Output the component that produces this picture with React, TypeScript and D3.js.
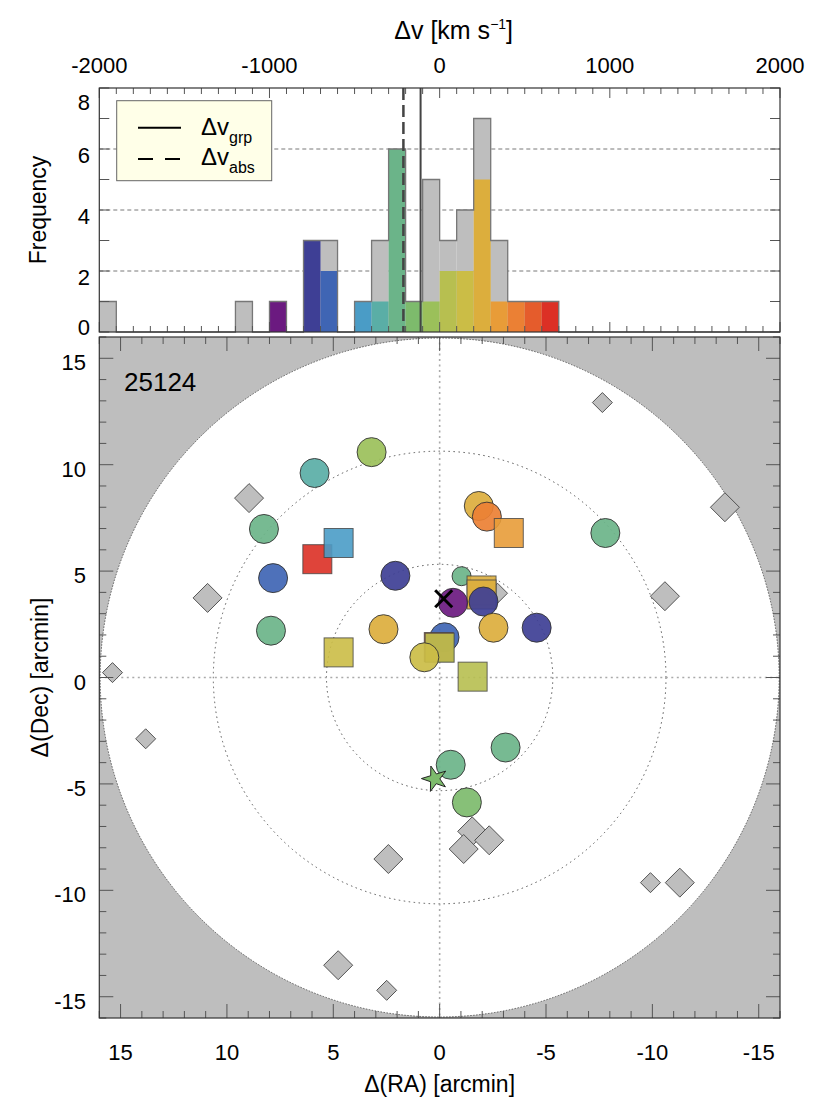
import React from 'react';
import * as d3 from 'd3';

// ---------- DATA ----------
// Histogram bins (start velocity, km/s; 100 km/s wide)
const binStart = [-2000, -1200, -1000, -800, -700, -500, -400, -300, -200, -100, 0, 100, 200, 300, 400, 500, 600];
const totalCounts = [1, 1, 1, 3, 3, 1, 3, 6, 1, 5, 3, 4, 7, 3, 1, 1, 1];
const memberCounts = [0, 0, 1, 3, 2, 1, 1, 6, 1, 1, 2, 2, 5, 1, 1, 1, 1];
const binColors = ['#bebebe', '#bebebe', '#6b1a80', '#3e3f95', '#3f65b4', '#4a9cc6', '#5aaea6', '#6bb489', '#7dbb6c', '#9bc05a', '#b7bf50', '#cbbd46', '#dcae3d', '#e89c38', '#eb8034', '#e55c2c', '#dc3025'];

const dvGrp = -112;
const dvAbs = -213;

const velTicksMajor = [-2000, -1000, 0, 1000, 2000];
const freqTickLabels = [0, 2, 4, 6, 8];
const gridFreq = [2, 4, 6];

// Group members: offsets (arcmin), shape, velocity bin start
const memberRA = [3.20, 5.88, 8.26, 5.75, 4.75, 7.83, 2.08, 7.93, 2.64, 4.75, -1.84, -2.22, -3.25, -7.79, -1.03, -1.97, -1.97, -2.06, -0.63, -2.53, -4.56, -0.23, 0.04, 0.0, 0.72, -1.55, -0.52, -3.10, -1.28];
const memberDec = [10.59, 9.61, 6.98, 5.56, 6.32, 4.67, 4.78, 2.20, 2.27, 1.18, 8.06, 7.56, 6.79, 6.79, 4.76, 4.09, 3.90, 3.57, 3.51, 2.34, 2.34, 1.89, 1.43, 1.40, 0.95, 0.04, -4.10, -3.29, -5.87];
const memberShape = ['c', 'c', 'c', 's', 's', 'c', 'c', 'c', 'c', 's', 'c', 'c', 's', 'c', 'cs', 's', 's', 'c', 'c', 'c', 'c', 'c', 's', 's', 'c', 's', 'c', 'c', 'c'];
const memberVel = [-100, -400, -300, 600, -500, -700, -800, -300, 200, 100, 200, 400, 300, -300, -300, 200, 200, -800, -1000, 200, -800, -700, 500, 0, 100, 0, -300, -300, -200];

// Non-members (grey diamonds)
const otherRA = [8.96, 10.91, -13.41, -10.59, -2.72, -1.53, -2.33, -1.13, 2.41, -11.29, 4.77, 15.38, 13.82, -7.65, -9.91, 2.49];
const otherDec = [8.43, 3.74, 8.00, 3.82, 3.96, -7.23, -7.65, -8.06, -8.53, -9.64, -13.52, 0.23, -2.88, 12.92, -9.64, -14.70];
const otherBig = [true, true, true, true, false, true, true, true, true, true, true, false, false, false, false, false];

// Absorber (star) and QSO (x)
const absRA = 0.23, absDec = -4.76, absVel = -200;
const qsoRA = -0.19, qsoDec = 3.70;

const ringRadii = [5.32, 10.64];
const fieldRadius = 15.96;
const posTicksLabels = [15, 10, 5, 0, -5, -10, -15];

// ---------- LAYOUT ----------
const W = 830, H = 1107;
const HL = 99.3, HR = 780, HT = 88, HB = 332;
const ST = 337, SB = 1018;
const FONT = '"Liberation Sans", Arial, Helvetica, sans-serif';
const TICK_FS = 22;
const TITLE_FS = 23;

const xV = d3.scaleLinear().domain([-2000, 2000]).range([HL, HR]);
const yF = d3.scaleLinear().domain([0, 8]).range([HB, HT]);
const xRA = d3.scaleLinear().domain([16, -16]).range([HL, HR]);
const yDec = d3.scaleLinear().domain([-16, 16]).range([SB, ST]);

const colorOf = (v: number) => binColors[binStart.indexOf(v)];

export default function App() {
  const binW = xV(-1900) - xV(-2000);

  const allBins = d3.range(-2000, 2000, 100);
  const fullCounts = allBins.map(v => {
    const i = binStart.indexOf(v);
    return i >= 0 ? totalCounts[i] : 0;
  });
  const stepPts: [number, number][] = allBins.map((v, i) => [v, fullCounts[i]]);
  stepPts.push([2000, 0]);
  const stepPath = d3.line<[number, number]>().x(d => xV(d[0])).y(d => yF(d[1])).curve(d3.curveStepAfter)(stepPts) || '';

  const minorV = d3.range(-2000, 2001, 100);
  const minorF = d3.range(0, 9, 1);
  const minorP = d3.range(-16, 17, 1);

  const cx0 = xRA(0), cy0 = yDec(0);
  const rField = xRA(0) - xRA(fieldRadius);
  const maskPath = `M${HL},${ST}H${HR}V${SB}H${HL}Z M${cx0 + rField},${cy0} A${rField},${rField} 0 1 0 ${cx0 - rField},${cy0} A${rField},${rField} 0 1 0 ${cx0 + rField},${cy0} Z`;

  const diamond = (x: number, y: number, r: number) => `M${x},${y - r}L${x + r},${y}L${x},${y + r}L${x - r},${y}Z`;
  const starPath = d3.symbol(d3.symbolStar, 200)() || '';

  const labelCY = (v: number) => Math.min(327, Math.max(102, yF(v) + 5.5));

  return (
    <svg width={W} height={H} style={{ position: 'absolute', left: 0, top: 0, background: '#fff' }} fontFamily={FONT}>
      <rect x={0} y={0} width={W} height={H} fill="#fff" />
      {/* ---------------- HISTOGRAM ---------------- */}
      <text x={xV(0) + 14} y={39} fontSize={25} textAnchor="middle">
        Δv [km s<tspan fontSize={14} dy={-10}>−1</tspan><tspan dy={10}>]</tspan>
      </text>
      {velTicksMajor.map(v => (
        <text key={'vt' + v} x={xV(v)} y={73} fontSize={TICK_FS} textAnchor="middle">{v}</text>
      ))}
      <text transform={`translate(46,${(HT + HB) / 2}) rotate(-90)`} fontSize={TITLE_FS} textAnchor="middle">Frequency</text>
      {freqTickLabels.map(v => (
        <text key={'ft' + v} x={90} y={labelCY(v) + 8} fontSize={TICK_FS} textAnchor="end">{v}</text>
      ))}
      <rect x={HL} y={HT} width={HR - HL} height={HB - HT} fill="#fff" />
      {gridFreq.map(v => (
        <line key={'g' + v} x1={HL} x2={HR} y1={yF(v)} y2={yF(v)} stroke="#555" strokeWidth={0.8} strokeDasharray="4,3" />
      ))}
      {binStart.map((v, i) => (
        <rect key={'tb' + v} x={xV(v)} y={yF(totalCounts[i])} width={binW} height={yF(0) - yF(totalCounts[i])} fill="#bebebe" />
      ))}
      {binStart.map((v, i) => memberCounts[i] > 0 ? (
        <rect key={'mb' + v} x={xV(v)} y={yF(memberCounts[i])} width={binW} height={yF(0) - yF(memberCounts[i])} fill={binColors[i]} />
      ) : null)}
      <path d={stepPath} fill="none" stroke="#777" strokeWidth={1.3} />
      <line x1={xV(dvAbs)} x2={xV(dvAbs)} y1={HT} y2={HB} stroke="#444" strokeWidth={2.5} strokeDasharray="12,5" />
      <line x1={xV(dvGrp)} x2={xV(dvGrp)} y1={HT} y2={HB} stroke="#444" strokeWidth={2} />
      {minorV.map(v => {
        const L = v % 1000 === 0 ? 10 : 6;
        return (
          <g key={'hv' + v}>
            <line x1={xV(v)} x2={xV(v)} y1={HT} y2={HT + L} stroke="#555" strokeWidth={1} />
            <line x1={xV(v)} x2={xV(v)} y1={HB} y2={HB - L} stroke="#555" strokeWidth={1} />
          </g>
        );
      })}
      {minorF.map(v => (
        <g key={'hf' + v}>
          <line x1={HL} x2={HL + 10} y1={yF(v)} y2={yF(v)} stroke="#555" strokeWidth={1} />
          <line x1={HR} x2={HR - 10} y1={yF(v)} y2={yF(v)} stroke="#555" strokeWidth={1} />
        </g>
      ))}
      {/* legend */}
      <rect x={116.7} y={100.7} width={155} height={80} fill="#ffffe8" stroke="#666" strokeWidth={1} />
      <line x1={138} x2={181} y1={127.7} y2={127.7} stroke="#000" strokeWidth={2} />
      <line x1={138} x2={181} y1={159} y2={159} stroke="#000" strokeWidth={2} strokeDasharray="15,12" />
      <text x={201} y={135} fontSize={24}>Δv<tspan fontSize={16} dy={8}>grp</tspan></text>
      <text x={201} y={165} fontSize={24}>Δv<tspan fontSize={16} dy={8}>abs</tspan></text>
      <rect x={HL} y={HT} width={HR - HL} height={HB - HT} fill="none" stroke="#333" strokeWidth={1.2} />

      {/* ---------------- SKY PLOT ---------------- */}
      <rect x={HL} y={ST} width={HR - HL} height={SB - ST} fill="#fff" />
      <path d={maskPath} fill="#bebebe" fillRule="evenodd" />
      <circle cx={cx0} cy={cy0} r={rField} fill="none" stroke="#444" strokeWidth={0.8} strokeDasharray="1.5,1.5" />
      {ringRadii.map(r => (
        <circle key={'ring' + r} cx={cx0} cy={cy0} r={xRA(0) - xRA(r)} fill="none" stroke="#555" strokeWidth={1} strokeDasharray="1.5,3.5" />
      ))}
      <line x1={xRA(0)} x2={xRA(0)} y1={ST} y2={SB} stroke="#aaa" strokeWidth={1.6} strokeDasharray="2,3.5" />
      <line x1={HL} x2={HR} y1={yDec(0)} y2={yDec(0)} stroke="#aaa" strokeWidth={1.6} strokeDasharray="2,3.5" />

      {otherRA.map((ra, i) => (
        <path key={'o' + i} d={diamond(xRA(ra), yDec(otherDec[i]), otherBig[i] ? 14.5 : 10)} fill="#bebebe" stroke="#444" strokeWidth={0.9} />
      ))}

      {memberRA.map((ra, i) => {
        const x = xRA(ra), y = yDec(memberDec[i]);
        const col = colorOf(memberVel[i]);
        const sh = memberShape[i];
        if (sh === 's') {
          return <rect key={'m' + i} x={x - 14.5} y={y - 14.5} width={29} height={29} fill={col} fillOpacity={0.9} stroke="#444" strokeOpacity={0.8} strokeWidth={1} />;
        }
        return <circle key={'m' + i} cx={x} cy={y} r={sh === 'cs' ? 9.5 : 14.5} fill={col} fillOpacity={0.92} stroke="#333" strokeWidth={0.9} />;
      })}

      <path d={starPath} transform={`translate(${xRA(absRA)},${yDec(absDec)}) rotate(-17)`} fill={colorOf(absVel)} stroke="#222" strokeWidth={0.9} />
      <g stroke="#000" strokeWidth={3}>
        <line x1={xRA(qsoRA) - 8.5} x2={xRA(qsoRA) + 8.5} y1={yDec(qsoDec) - 8.5} y2={yDec(qsoDec) + 8.5} />
        <line x1={xRA(qsoRA) - 8.5} x2={xRA(qsoRA) + 8.5} y1={yDec(qsoDec) + 8.5} y2={yDec(qsoDec) - 8.5} />
      </g>

      {minorP.map(v => {
        const L = v % 5 === 0 ? 14 : 7;
        return (
          <g key={'pt' + v} stroke="#555" strokeWidth={1}>
            <line x1={xRA(v)} x2={xRA(v)} y1={SB} y2={SB - L} />
            <line x1={xRA(v)} x2={xRA(v)} y1={ST} y2={ST + L} />
            <line x1={HL} x2={HL + L} y1={yDec(v)} y2={yDec(v)} />
            <line x1={HR} x2={HR - L} y1={yDec(v)} y2={yDec(v)} />
          </g>
        );
      })}
      <rect x={HL} y={ST} width={HR - HL} height={SB - ST} fill="none" stroke="#333" strokeWidth={1.2} />

      <text x={124} y={391} fontSize={26}>25124</text>

      {posTicksLabels.map(v => (
        <text key={'xl' + v} x={xRA(v)} y={1060} fontSize={TICK_FS} textAnchor="middle">{v}</text>
      ))}
      {posTicksLabels.map(v => (
        <text key={'yl' + v} x={86} y={yDec(v) + 12} fontSize={TICK_FS} textAnchor="end">{v}</text>
      ))}
      <text x={xRA(0)} y={1092} fontSize={TITLE_FS} textAnchor="middle">Δ(RA) [arcmin]</text>
      <text transform={`translate(48,${yDec(0)}) rotate(-90)`} fontSize={TITLE_FS} textAnchor="middle">Δ(Dec) [arcmin]</text>
    </svg>
  );
}
